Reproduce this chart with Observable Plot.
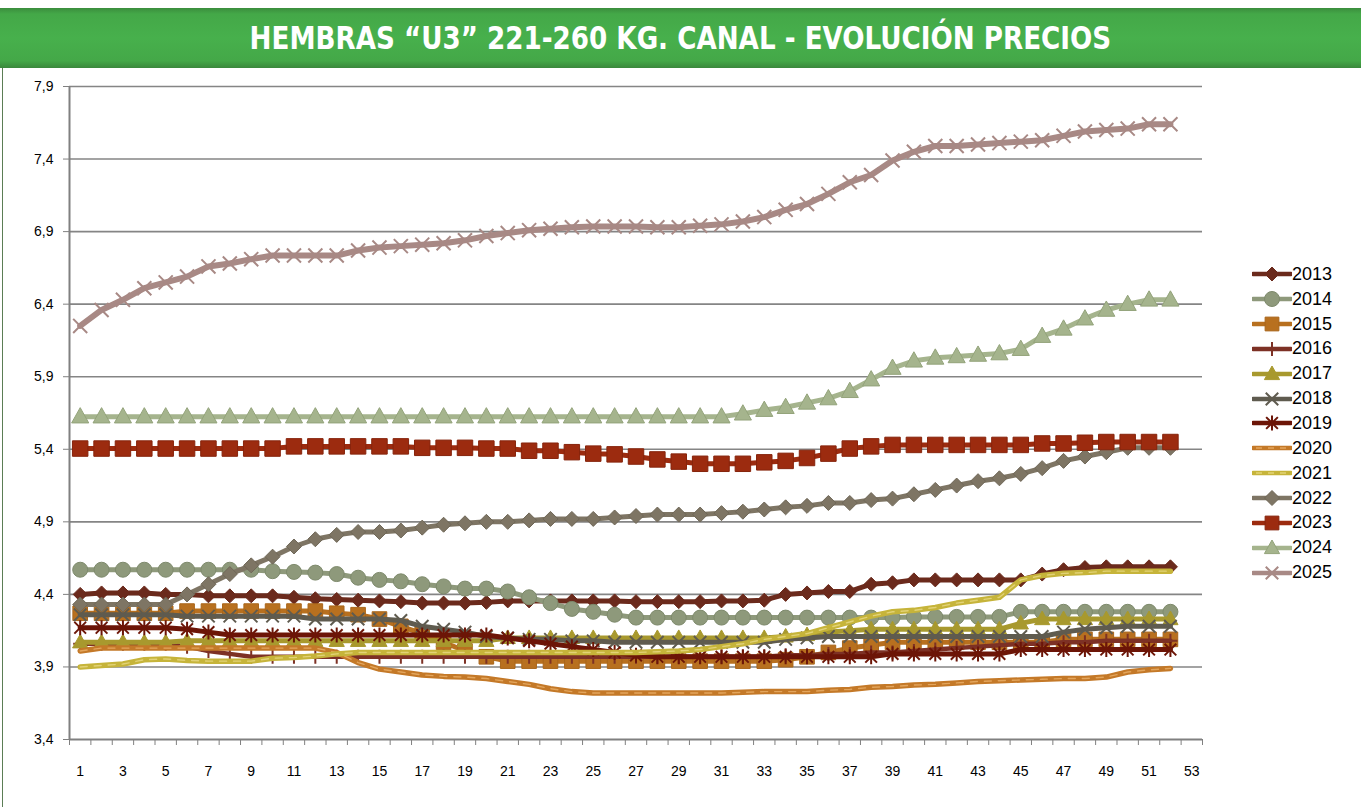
<!DOCTYPE html>
<html><head><meta charset="utf-8">
<script src="https://cdn.jsdelivr.net/npm/d3@7"></script>
<script src="https://cdn.jsdelivr.net/npm/@observablehq/plot@0.6"></script>
<style>
html,body{margin:0;padding:0;background:#fff}
body{width:1361px;height:807px;overflow:hidden;position:relative;font-family:"Liberation Sans",Arial,sans-serif}
#title{position:absolute;left:0;top:8px;width:1361px;height:60px;
 background:linear-gradient(#3b8d3d 0%,#44a848 10%,#47b04c 50%,#44a848 88%,#3a883c 100%);
 display:flex;align-items:center;justify-content:center}
#title span{color:#fff;font-family:"DejaVu Sans Condensed","DejaVu Sans",sans-serif;font-weight:bold;font-size:32px;
 display:inline-block;transform:scaleX(0.91);white-space:nowrap}
#edge{position:absolute;left:2px;top:68px;width:1px;height:739px;background:#5b7d55}
#chart{position:absolute;left:0;top:68px}
#legend{position:absolute;left:1252px;top:262px}
.row{height:24.85px;display:flex;align-items:center;font-size:18px;color:#000}
.row svg{display:block}
</style></head>
<body>
<div id="title"><span>HEMBRAS “U3” 221-260 KG. CANAL - EVOLUCIÓN PRECIOS</span></div>
<div id="edge"></div>
<div id="chart"></div>
<div id="legend"></div>
<script>
// ---- data ----
const weeks = d3.range(1, 53);
const years = [2013, 2014, 2015, 2016, 2017, 2018, 2019, 2020, 2021, 2022, 2023, 2024, 2025];
const yTicks = [3.4, 3.9, 4.4, 4.9, 5.4, 5.9, 6.4, 6.9, 7.4, 7.9];
const xLabels = d3.range(1, 54, 2);
const xBoundaries = d3.range(0.5, 54, 1);

const s2013 = [4.40,4.41,4.41,4.41,4.40,4.40,4.39,4.39,4.39,4.39,4.38,4.37,4.365,4.36,4.355,4.35,4.34,4.34,4.34,4.345,
 4.355,4.355,4.355,4.355,4.355,4.355,4.35,4.35,4.35,4.35,4.355,4.355,4.36,4.40,4.41,4.42,4.42,4.47,4.48,4.50,
 4.50,4.50,4.50,4.50,4.50,4.54,4.57,4.585,4.59,4.59,4.59,4.59];
const s2014 = [4.57,4.57,4.57,4.57,4.57,4.57,4.57,4.57,4.57,4.56,4.555,4.55,4.54,4.515,4.50,4.49,4.47,4.455,4.44,4.44,
 4.42,4.38,4.34,4.30,4.28,4.26,4.24,4.24,4.24,4.24,4.24,4.24,4.24,4.24,4.24,4.24,4.24,4.24,4.24,4.245,
 4.245,4.245,4.245,4.245,4.28,4.28,4.28,4.28,4.28,4.28,4.28,4.28];
const s2015 = [4.27,4.27,4.27,4.27,4.27,4.285,4.285,4.285,4.285,4.285,4.285,4.285,4.27,4.26,4.23,4.18,4.13,4.07,4.01,3.97,
 3.94,3.94,3.94,3.94,3.94,3.94,3.94,3.94,3.94,3.94,3.94,3.94,3.94,3.95,3.97,4.00,4.03,4.05,4.07,4.07,
 4.07,4.07,4.07,4.07,4.07,4.07,4.09,4.09,4.09,4.09,4.09,4.09];
const s2016 = [4.06,4.06,4.06,4.06,4.06,4.04,4.01,3.99,3.97,3.97,3.97,3.97,3.97,3.97,3.97,3.97,3.97,3.97,3.97,3.97,
 3.97,3.97,3.97,3.97,3.97,3.97,3.97,3.97,3.97,3.97,3.97,3.97,3.97,3.98,3.98,3.99,3.99,4.00,4.00,4.01,
 4.02,4.03,4.04,4.05,4.06,4.06,4.07,4.07,4.08,4.08,4.08,4.08];
const s2017 = [4.07,4.07,4.07,4.07,4.07,4.08,4.08,4.08,4.08,4.08,4.08,4.08,4.08,4.08,4.08,4.08,4.08,4.08,4.08,4.08,
 4.10,4.10,4.10,4.10,4.10,4.10,4.10,4.10,4.10,4.10,4.10,4.10,4.10,4.11,4.12,4.14,4.15,4.16,4.16,4.16,
 4.16,4.16,4.16,4.16,4.20,4.23,4.23,4.23,4.23,4.23,4.23,4.23];
const s2018 = [4.26,4.26,4.26,4.26,4.26,4.25,4.25,4.25,4.25,4.25,4.25,4.23,4.23,4.23,4.23,4.22,4.18,4.16,4.14,4.11,
 4.10,4.09,4.09,4.08,4.08,4.07,4.07,4.07,4.07,4.07,4.07,4.07,4.07,4.09,4.10,4.11,4.11,4.11,4.11,4.11,
 4.11,4.11,4.11,4.11,4.11,4.11,4.14,4.16,4.17,4.18,4.18,4.18];
const s2019 = [4.17,4.17,4.17,4.17,4.17,4.16,4.14,4.12,4.12,4.12,4.12,4.12,4.12,4.12,4.12,4.12,4.12,4.12,4.12,4.12,
 4.10,4.08,4.06,4.04,4.02,4.00,3.98,3.97,3.97,3.97,3.97,3.97,3.97,3.97,3.97,3.97,3.97,3.97,3.99,3.99,
 3.99,3.99,3.99,3.99,4.02,4.02,4.02,4.02,4.02,4.02,4.02,4.02];
const s2020 = [4.01,4.03,4.03,4.03,4.03,4.03,4.03,4.03,4.03,4.03,4.03,4.03,4.00,3.93,3.885,3.865,3.845,3.835,3.83,3.82,
 3.80,3.78,3.75,3.73,3.72,3.72,3.72,3.72,3.72,3.72,3.72,3.725,3.73,3.73,3.73,3.74,3.745,3.76,3.765,3.775,
 3.78,3.79,3.80,3.805,3.81,3.815,3.82,3.82,3.83,3.865,3.88,3.89];
const s2021 = [3.90,3.91,3.92,3.95,3.955,3.945,3.94,3.94,3.94,3.96,3.965,3.975,3.99,4.00,4.00,4.00,4.00,4.00,4.00,4.00,
 4.00,4.00,4.00,4.00,4.00,4.00,4.00,4.005,4.01,4.02,4.04,4.06,4.09,4.11,4.13,4.17,4.21,4.25,4.28,4.29,
 4.31,4.34,4.36,4.38,4.50,4.53,4.545,4.55,4.56,4.56,4.56,4.56];
const s2022 = [4.33,4.33,4.33,4.33,4.33,4.40,4.47,4.54,4.60,4.66,4.73,4.78,4.81,4.83,4.83,4.84,4.86,4.88,4.89,4.90,
 4.90,4.91,4.92,4.92,4.92,4.93,4.94,4.95,4.95,4.95,4.96,4.97,4.985,5.00,5.01,5.03,5.03,5.05,5.06,5.09,
 5.12,5.15,5.18,5.20,5.23,5.27,5.32,5.35,5.38,5.41,5.41,5.41];
const s2023 = [5.405,5.405,5.405,5.405,5.405,5.405,5.405,5.405,5.405,5.405,5.42,5.42,5.42,5.42,5.42,5.42,5.41,5.41,5.41,5.405,
 5.405,5.39,5.39,5.38,5.37,5.365,5.35,5.33,5.315,5.30,5.30,5.30,5.31,5.32,5.34,5.37,5.405,5.42,5.43,5.43,
 5.43,5.43,5.43,5.43,5.43,5.44,5.44,5.445,5.45,5.45,5.45,5.45];
const s2024 = [5.625,5.625,5.625,5.625,5.625,5.625,5.625,5.625,5.625,5.625,5.625,5.625,5.625,5.625,5.625,5.625,5.625,5.625,5.625,5.625,
 5.625,5.625,5.625,5.625,5.625,5.625,5.625,5.625,5.625,5.625,5.625,5.645,5.67,5.69,5.72,5.75,5.80,5.88,5.96,6.01,
 6.03,6.04,6.05,6.06,6.09,6.18,6.23,6.30,6.36,6.40,6.43,6.43];
const s2025 = [6.25,6.36,6.43,6.51,6.55,6.59,6.66,6.68,6.71,6.735,6.735,6.735,6.735,6.77,6.79,6.80,6.81,6.82,6.84,6.87,
 6.89,6.91,6.92,6.93,6.935,6.935,6.935,6.93,6.93,6.94,6.95,6.97,7.00,7.05,7.09,7.16,7.24,7.29,7.39,7.45,
 7.49,7.49,7.50,7.51,7.52,7.53,7.56,7.59,7.60,7.61,7.64,7.64];

const seriesByYear = {2013:s2013,2014:s2014,2015:s2015,2016:s2016,2017:s2017,2018:s2018,2019:s2019,
 2020:s2020,2021:s2021,2022:s2022,2023:s2023,2024:s2024,2025:s2025};

// ---- styles ----
const styles = {
 2013:{color:"#6B2A1C", sym:"diamond", r:7, w:5},
 2014:{color:"#8E997B", edge:"#7E8A6C", sym:"circle", r:7.5, w:5},
 2015:{color:"#B8701F", edge:"#A9661B", sym:"square", r:8.5, w:5},
 2016:{color:"#7D3125", sym:"plus", r:7, w:4.5},
 2017:{color:"#A8992E", sym:"triangle", r:8, w:5},
 2018:{color:"#5F5B4F", sym:"times", r:8, w:5},
 2019:{color:"#6C1507", sym:"asterisk", r:7.5, w:5},
 2020:{color:"#C47928", dash:"#E3A55C", w:5.5},
 2021:{color:"#C6B43A", dash:"#E2D276", w:5.5},
 2022:{color:"#7E7564", edge:"#6F6757", sym:"diamond", r:7.5, w:5},
 2023:{color:"#9C2B0F", edge:"#86240C", sym:"square", r:9, w:5},
 2024:{color:"#A5B48D", edge:"#93A37A", sym:"triangle", r:9, w:5},
 2025:{color:"#A88985", sym:"times", r:9, w:6}
};
const rad = size => Math.sqrt(size / Math.PI);
const SYM = {
 diamond:{draw(c,size){const s=rad(size);c.moveTo(0,-s);c.lineTo(s,0);c.lineTo(0,s);c.lineTo(-s,0);c.closePath();}},
 square:{draw(c,size){const s=rad(size)*0.86;c.rect(-s,-s,2*s,2*s);}},
 circle:{draw(c,size){const s=rad(size);c.moveTo(s,0);c.arc(0,0,s,0,2*Math.PI);}},
 triangle:{draw(c,size){const s=rad(size);c.moveTo(0,-s);c.lineTo(s*0.95,s*0.7);c.lineTo(-s*0.95,s*0.7);c.closePath();}},
 plus:{draw(c,size){const s=rad(size);c.moveTo(0,-s);c.lineTo(0,s);c.moveTo(-s,0);c.lineTo(s,0);}},
 times:{draw(c,size){const s=rad(size)*0.78;c.moveTo(-s,-s);c.lineTo(s,s);c.moveTo(s,-s);c.lineTo(-s,s);}},
 asterisk:{draw(c,size){const s=rad(size),d=s*0.78;c.moveTo(0,-s);c.lineTo(0,s);c.moveTo(-d,-d);c.lineTo(d,d);c.moveTo(d,-d);c.lineTo(-d,d);}}
};
const filled = {diamond:true, square:true, circle:true, triangle:true};

// ---- table ----
const rows = years.flatMap(yr => seriesByYear[yr].map((v, i) => ({year: yr, week: weeks[i], price: v})));

const seriesMarks = years.flatMap(yr => {
 const st = styles[yr];
 const data = rows.filter(d => d.year === yr);
 const m = [Plot.line(data, {x:"week", y:"price", stroke:st.color, strokeWidth:st.w, strokeLinejoin:"round", strokeLinecap:"round"})];
 if (st.dash) m.push(Plot.line(data, {x:"week", y:"price", stroke:st.dash, strokeWidth:1.4, strokeDasharray:"7,7"}));
 if (st.sym) {
  const f = filled[st.sym];
  m.push(Plot.dot(data, {x:"week", y:"price", symbol:SYM[st.sym], r:st.r,
   fill: f ? st.color : "none", stroke: f ? (st.edge || st.color) : st.color, strokeWidth: f ? 1 : 2}));
 }
 return m;
});

const chart = Plot.plot({
 width:1361, height:739,
 marginTop:18, marginBottom:68, marginLeft:69, marginRight:159,
 x:{domain:[0.5, 53.5], axis:null},
 y:{domain:[3.4, 7.9], axis:null},
 style:{fontFamily:"'Liberation Sans Narrow','Liberation Sans',Arial,sans-serif", fontSize:"14px", color:"#000", background:"transparent", overflow:"visible"},
 marks:[
  Plot.ruleY(yTicks.slice(1), {stroke:"#858585", strokeWidth:1.6}),
  Plot.axisY(yTicks, {tickSize:6, tickPadding:10, stroke:"#808080", fontSize:14, label:null,
   tickFormat: d => d.toFixed(1).replace(".", ",")}),
  Plot.axisX(xBoundaries, {tickSize:6, stroke:"#808080", label:null, tickFormat: () => ""}),
  Plot.axisX(xLabels, {tickSize:0, tickPadding:27, label:null, fontSize:14}),
  ...seriesMarks,
  Plot.ruleX([0.5], {stroke:"#808080", strokeWidth:2}),
  Plot.ruleY([3.4], {stroke:"#808080", strokeWidth:2})
 ]
});
document.getElementById("chart").appendChild(chart);

// ---- legend ----
const legend = d3.select("#legend");
for (const yr of years) {
 const st = styles[yr];
 const row = legend.append("div").attr("class", "row");
 const svg = row.append("svg").attr("width", 40).attr("height", 24);
 svg.append("line").attr("x1", 1).attr("x2", 39).attr("y1", 12).attr("y2", 12)
  .attr("stroke", st.color).attr("stroke-width", 4.5).attr("stroke-linecap", "round");
 if (st.dash) svg.append("line").attr("x1", 4).attr("x2", 36).attr("y1", 12).attr("y2", 12)
  .attr("stroke", st.dash).attr("stroke-width", 1.3).attr("stroke-dasharray", "6,6");
 if (st.sym) {
  const p = d3.path();
  const r = Math.min(st.r, 8);
  SYM[st.sym].draw(p, r * r * Math.PI);
  const f = filled[st.sym];
  svg.append("path").attr("d", p.toString()).attr("transform", "translate(20,12)")
   .attr("fill", f ? st.color : "none").attr("stroke", f ? (st.edge || st.color) : st.color)
   .attr("stroke-width", f ? 1 : 2);
 }
 row.append("span").text(yr);
}
</script>
</body></html>
